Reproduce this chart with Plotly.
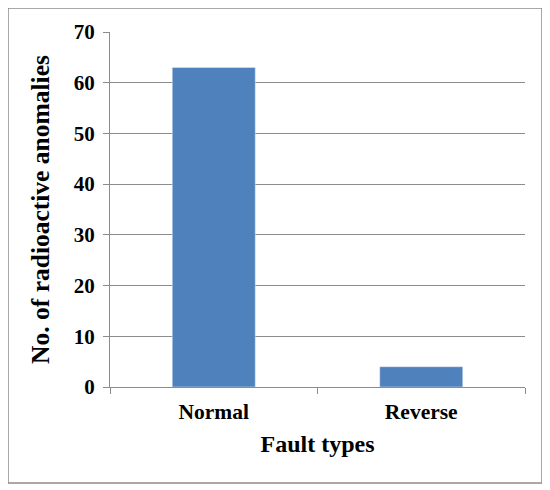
import plotly.graph_objects as go

fault_types = ["Normal", "Reverse"]
anomalies = [63, 4]

fig = go.Figure(
    go.Bar(
        x=fault_types,
        y=anomalies,
        marker_color="#4f81bd",
        width=0.4,
    )
)

# the page body adds an 8px offset, so margins are shifted to compensate
fig.update_layout(
    width=550,
    height=490,
    margin=dict(l=102, r=33, t=24, b=111),
    plot_bgcolor="white",
    paper_bgcolor="white",
    font_family="Liberation Serif",
    font_color="black",
    showlegend=False,
    bargap=0.6,
)

fig.update_yaxes(
    range=[0, 70],
    dtick=10,
    automargin=False,
    showgrid=True,
    gridcolor="#8c8c8c",
    gridwidth=1,
    showline=True,
    linecolor="#8c8c8c",
    ticks="outside",
    ticklen=6,
    tickcolor="#8c8c8c",
    ticklabelstandoff=4,
    tickfont=dict(size=21, family="Liberation Serif", weight="bold"),
    title=dict(
        text="No. of radioactive anomalies",
        font=dict(size=25.5, family="Liberation Serif", weight="bold"),
        standoff=16,
    ),
    zeroline=False,
)

fig.update_xaxes(
    automargin=False,
    showline=True,
    linecolor="#8c8c8c",
    ticks="outside",
    tickson="boundaries",
    ticklen=6,
    tickcolor="#8c8c8c",
    ticklabelstandoff=5,
    tickfont=dict(size=21.5, family="Liberation Serif", weight="bold"),
    title=dict(
        text="Fault types",
        font=dict(size=24, family="Liberation Serif", weight="bold"),
        standoff=12,
    ),
)

# grey frame round the whole chart
fig.add_shape(
    type="rect",
    xref="paper",
    yref="paper",
    x0=-102 / 415,
    x1=432 / 415,
    y0=-96 / 355,
    y1=379 / 355,
    line=dict(color="#8c8c8c", width=1.5),
    fillcolor="rgba(0,0,0,0)",
)

fig.write_html("out.html")
